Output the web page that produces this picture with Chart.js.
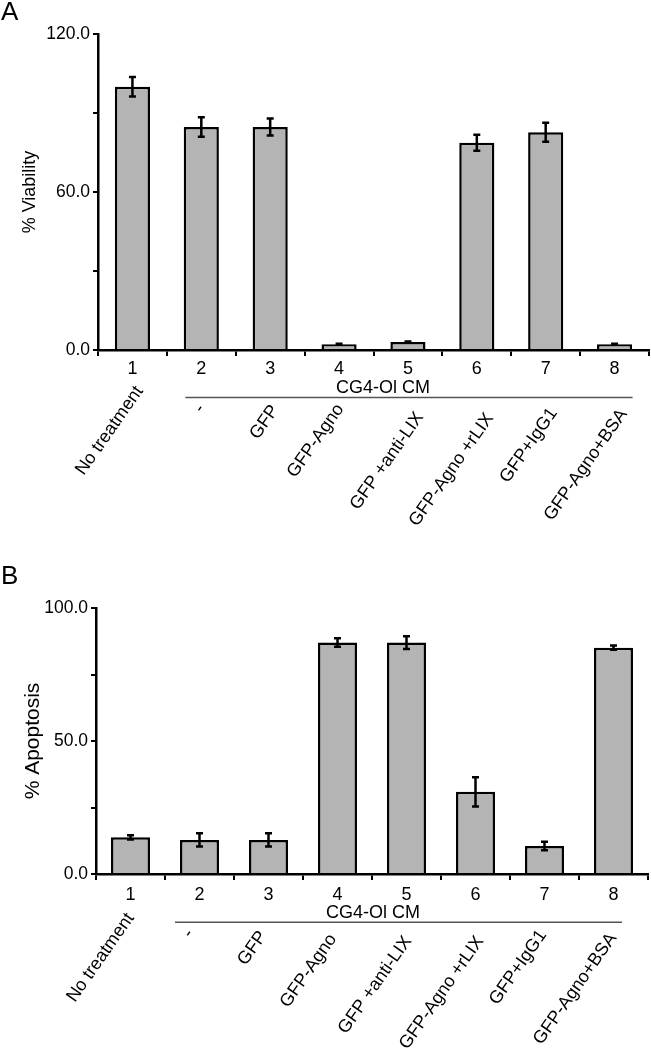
<!DOCTYPE html>
<html>
<head>
<meta charset="utf-8">
<script src="https://cdn.jsdelivr.net/npm/chart.js@4.4.1/dist/chart.umd.min.js"></script>
<style>
  body { margin: 0; background: #fff; }
  #wrap { position: relative; width: 651px; height: 1050px; font-family: 'Liberation Sans', Arial, sans-serif; color: #000; }
  canvas { position: absolute; left: 0; }
  #chartA { top: 0; }
  #chartB { top: 540px; }
  .panel { position: absolute; left: 1px; font-size: 26px; line-height: 26px; }
</style>
</head>
<body>
<div id="wrap">
  <canvas id="chartA" width="651" height="540"></canvas>
  <canvas id="chartB" width="651" height="510"></canvas>
  <div class="panel" style="top:-2px">A</div>
  <div class="panel" style="top:562px">B</div>
</div>
<script>
const groupNumbers = ['1', '2', '3', '4', '5', '6', '7', '8'];
const treatmentLabels = ['No treatment', '-', 'GFP', 'GFP-Agno', 'GFP +anti-LIX', 'GFP-Agno +rLIX', 'GFP+IgG1', 'GFP-Agno+BSA'];
const groupHeader = 'CG4-Ol CM';

const viability = [100.0, 84.7, 84.7, 2.2, 3.0, 78.7, 82.7, 2.2];
const viabilityErr = [3.7, 3.7, 3.2, 0.2, 0.2, 3.0, 3.6, 0.2];
const viabilityTicks = [0, 60, 120];

const apoptosis = [13.8, 12.8, 12.8, 87.0, 87.0, 30.9, 10.5, 85.1];
const apoptosisErr = [0.8, 2.5, 2.5, 1.6, 2.4, 5.5, 1.6, 0.8];
const apoptosisTicks = [0, 50, 100];

const FONT = "'Liberation Sans', Arial, sans-serif";

// panel placement (pixels inside each canvas)
const layoutA = {
  yWidth: 98, xHeight: 190, padTop: 34, padRight: 2, barPct: 0.51,
  max: 120, step: 30, title: '% Viability', titleSize: 18, titlePad: 19, tickPad: 2,
  headerDx: 9.5, headerY: 393, lineY: 397.5, lineFrom: -16, lineTo: 18,
  labelDx: [7, 0, 5, 1, 12, 13, 8, 9],
  labelY: [388, 406, 407, 406, 414, 415, 410, 411]
};
const layoutB = {
  yWidth: 96, xHeight: 176, padTop: 68, padRight: 3, barPct: 0.565,
  max: 100, step: 25, title: '% Apoptosis', titleSize: 21, titlePad: 20.4, tickPad: 4,
  headerDx: 1, headerY: 378.3, lineY: 382.3, lineFrom: -24.5, lineTo: 8.5,
  labelDx: [0, -9.5, -5.5, -4.5, 1.5, 4.5, -1.5, -0.5],
  labelY: [375, 391, 393, 396, 398, 398, 392, 395]
};

function extrasPlugin(L) {
  return {
    id: 'extras',
    afterDatasetsDraw(chart) {
      let ctx = chart.ctx;
      let x = chart.scales.x;
      let y = chart.scales.y;
      let ds = chart.data.datasets[0];

      // error bars
      ctx.save();
      ctx.strokeStyle = '#000';
      ctx.lineWidth = 2.5;
      for (let i = 0; i < ds.data.length; i++) {
        let px = x.getPixelForValue(i);
        let hi = y.getPixelForValue(ds.data[i] + ds.errorBars[i]);
        let lo = y.getPixelForValue(ds.data[i] - ds.errorBars[i]);
        ctx.beginPath();
        ctx.moveTo(px, hi); ctx.lineTo(px, lo);
        ctx.moveTo(px - 3.5, hi); ctx.lineTo(px + 3.5, hi);
        ctx.moveTo(px - 3.5, lo); ctx.lineTo(px + 3.5, lo);
        ctx.stroke();
      }
      ctx.restore();
    },
    afterDraw(chart) {
      let ctx = chart.ctx;
      let x = chart.scales.x;
      ctx.save();
      ctx.fillStyle = '#000';
      ctx.font = '18px ' + FONT;

      // group header + bracket line
      let mid = (x.getPixelForValue(3) + x.getPixelForValue(4)) / 2;
      ctx.textAlign = 'center';
      ctx.textBaseline = 'alphabetic';
      ctx.fillText(groupHeader, mid + L.headerDx, L.headerY);
      ctx.strokeStyle = '#555';
      ctx.lineWidth = 1.5;
      ctx.beginPath();
      ctx.moveTo(x.getPixelForValue(1) + L.lineFrom, L.lineY);
      ctx.lineTo(x.getPixelForValue(7) + L.lineTo, L.lineY);
      ctx.stroke();

      // slanted treatment labels
      ctx.textAlign = 'right';
      ctx.textBaseline = 'middle';
      for (let i = 0; i < treatmentLabels.length; i++) {
        ctx.save();
        ctx.translate(x.getPixelForValue(i) + L.labelDx[i], L.labelY[i]);
        ctx.rotate(-55 * Math.PI / 180);
        ctx.fillText(treatmentLabels[i], 0, 0);
        ctx.restore();
      }
      ctx.restore();
    }
  };
}

function makeChart(canvasId, values, errors, shownTicks, L) {
  let config = {
    type: 'bar',
    data: {
      labels: groupNumbers,
      datasets: [{
        data: values,
        errorBars: errors,
        backgroundColor: '#b4b4b4',
        borderColor: '#000',
        borderWidth: 2.5,
        borderSkipped: 'start',
        barPercentage: L.barPct,
        categoryPercentage: 1
      }]
    },
    options: {
      responsive: false,
      animation: false,
      layout: { padding: { top: L.padTop, right: L.padRight, bottom: 0, left: 0 } },
      plugins: { legend: { display: false }, tooltip: { enabled: false } },
      scales: {
        x: {
          z: 1,
          afterFit: function (scale) { scale.height = L.xHeight; },
          grid: { drawOnChartArea: false, offset: true, tickLength: 6, color: '#000', lineWidth: 2 },
          border: { color: '#000', width: 2.5 },
          ticks: { color: '#000', padding: L.tickPad, maxRotation: 0, font: { family: FONT, size: 18 } }
        },
        y: {
          z: 1,
          min: 0,
          max: L.max,
          afterFit: function (scale) { scale.width = L.yWidth; },
          grid: { drawOnChartArea: false, tickLength: 5, color: '#000', lineWidth: 2 },
          border: { color: '#000', width: 2.5 },
          ticks: {
            stepSize: L.step,
            color: '#000',
            padding: 3,
            font: { family: FONT, size: 17.5 },
            callback: function (v) { return shownTicks.includes(v) ? v.toFixed(1) : ''; }
          },
          title: {
            display: true,
            text: L.title,
            color: '#000',
            font: { family: FONT, size: L.titleSize },
            padding: { top: L.titlePad, bottom: 0 }
          }
        }
      }
    },
    plugins: [extrasPlugin(L)]
  };
  return new Chart(document.getElementById(canvasId), config);
}

makeChart('chartA', viability, viabilityErr, viabilityTicks, layoutA);
makeChart('chartB', apoptosis, apoptosisErr, apoptosisTicks, layoutB);
</script>
</body>
</html>
